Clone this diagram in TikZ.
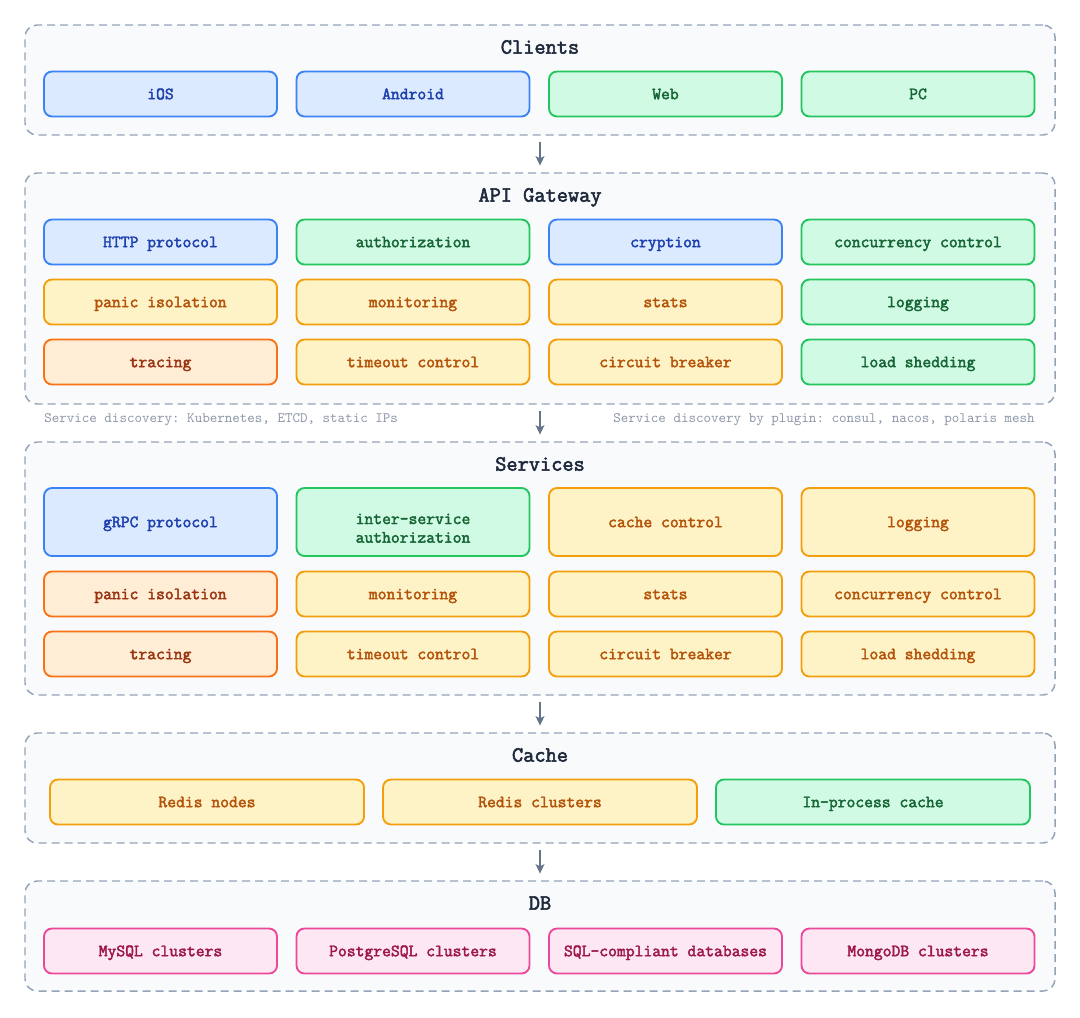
\documentclass[tikz,border=0pt]{standalone}
\usepackage{fontspec}
\setmonofont{Latin Modern Mono}[AutoFakeBold=2.5]
\usepackage{tikz}
\usetikzlibrary{positioning,arrows.meta}

\definecolor{groupfill}{HTML}{F8FAFC}
\definecolor{groupline}{HTML}{94A3B8}
\definecolor{titletext}{HTML}{1E293B}
\definecolor{flowline}{HTML}{64748B}
\definecolor{notetext}{HTML}{8C96A8}
\definecolor{bluefill}{HTML}{DBEAFE}
\definecolor{blueline}{HTML}{3B82F6}
\definecolor{bluetext}{HTML}{1E40AF}
\definecolor{greenfill}{HTML}{D1FAE5}
\definecolor{greenline}{HTML}{22C55E}
\definecolor{greentext}{HTML}{166534}
\definecolor{yellowfill}{HTML}{FEF3C7}
\definecolor{yellowline}{HTML}{F59E0B}
\definecolor{yellowtext}{HTML}{B45309}
\definecolor{orangefill}{HTML}{FFEDD5}
\definecolor{orangeline}{HTML}{F97316}
\definecolor{orangetext}{HTML}{9A3412}
\definecolor{pinkfill}{HTML}{FCE7F3}
\definecolor{pinkline}{HTML}{EC4899}
\definecolor{pinktext}{HTML}{9D174D}

\begin{document}
\begin{tikzpicture}[x=0.75pt, y=-0.75pt,
    group/.style={draw=groupline, fill=groupfill, line width=1.1pt, dash pattern=on 6pt off 3.75pt,
        rounded corners=9pt, minimum width=772.5pt, inner sep=0pt},
    title/.style={text=titletext, text height=10pt, text depth=0pt,
        font=\ttfamily\bfseries\fontsize{16.3}{19}\selectfont},
    box/.style={draw, rounded corners=6pt, line width=1.4pt, minimum width=174.75pt, minimum height=33.75pt,
        align=center, text height=7.8pt, text depth=0pt, font=\ttfamily\bfseries\fontsize{12.85}{14}\selectfont},
    twoline/.style={text height=31pt, text depth=0pt},
    oneline/.style={},
    widebox/.style={box, minimum width=235.5pt},
    bluebox/.style={draw=blueline, fill=bluefill, text=bluetext},
    greenbox/.style={draw=greenline, fill=greenfill, text=greentext},
    yellowbox/.style={draw=yellowline, fill=yellowfill, text=yellowtext},
    orangebox/.style={draw=orangeline, fill=orangefill, text=orangetext},
    pinkbox/.style={draw=pinkline, fill=pinkfill, text=pinktext},
    note/.style={text=notetext, inner sep=0pt, text height=6.6pt, text depth=0pt,
        font=\ttfamily\fontsize{10.75}{12}\selectfont},
    flow/.style={draw=flowline, line width=1.6pt, -{Stealth[length=7pt, width=6.5pt, inset=1.5pt]},
        shorten <=5pt, shorten >=5pt}]
    \useasboundingbox (0,0) rectangle (1080,1017);

    % layers
    \node[group, minimum height=82.5pt] (clients) at (540,80) {};
    \node[group, minimum height=173.25pt] (gateway) at (540,288.5) {};
    \node[group, minimum height=189.75pt] (services) at (540,568.5) {};
    \node[group, minimum height=82.5pt] (cache) at (540,788) {};
    \node[group, minimum height=82.5pt] (db) at (540,936) {};

    \node[title] (clients-title) at (540,47) {Clients};
    \node[title] (gateway-title) at (540,195) {API Gateway};
    \node[title] (services-title) at (540,464) {Services};
    \node[title] (cache-title) at (540,755) {Cache};
    \node[title] (db-title) at (540,903) {DB};

    % clients
    \foreach \name/\txt/\kind [count=\i from 0] in {ios/iOS/bluebox, android/Android/bluebox,
            web/Web/greenbox, pc/PC/greenbox}
        \node[box, \kind] (\name) at (160.5+\i*252.5, 94) {\txt};

    % api gateway
    \foreach \name/\txt/\kind [count=\i from 0] in {gw-http/HTTP protocol/bluebox,
            gw-auth/authorization/greenbox, gw-crypt/cryption/bluebox,
            gw-conc/concurrency control/greenbox}
        \node[box, \kind] (\name) at (160.5+\i*252.5, 242) {\txt};
    \foreach \name/\txt/\kind [count=\i from 0] in {gw-panic/panic isolation/yellowbox,
            gw-mon/monitoring/yellowbox, gw-stats/stats/yellowbox, gw-log/logging/greenbox}
        \node[box, \kind] (\name) at (160.5+\i*252.5, 302) {\txt};
    \foreach \name/\txt/\kind [count=\i from 0] in {gw-trace/tracing/orangebox,
            gw-timeout/timeout control/yellowbox, gw-breaker/circuit breaker/yellowbox,
            gw-shed/load shedding/greenbox}
        \node[box, \kind] (\name) at (160.5+\i*252.5, 362) {\txt};

    % service discovery notes
    \node[note, anchor=west] (sd-left) at (44,418) {Service discovery: Kubernetes, ETCD, static IPs};
    \node[note, anchor=east] (sd-right) at (1035,418) {Service discovery by plugin: consul, nacos, polaris mesh};

    % services
    \foreach \name/\txt/\kind/\lines [count=\i from 0] in {sv-grpc/gRPC protocol/bluebox/oneline,
            sv-auth/{inter-service\\authorization}/greenbox/twoline,
            sv-cache/cache control/yellowbox/oneline, sv-log/logging/yellowbox/oneline}
        \node[box, \kind, \lines, minimum height=51pt] (\name) at (160.5+\i*252.5, 522) {\txt};
    \foreach \name/\txt/\kind [count=\i from 0] in {sv-panic/panic isolation/orangebox,
            sv-mon/monitoring/yellowbox, sv-stats/stats/yellowbox,
            sv-conc/concurrency control/yellowbox}
        \node[box, \kind] (\name) at (160.5+\i*252.5, 594) {\txt};
    \foreach \name/\txt/\kind [count=\i from 0] in {sv-trace/tracing/orangebox,
            sv-timeout/timeout control/yellowbox, sv-breaker/circuit breaker/yellowbox,
            sv-shed/load shedding/yellowbox}
        \node[box, \kind] (\name) at (160.5+\i*252.5, 654) {\txt};

    % cache
    \foreach \name/\txt/\kind [count=\i from 0] in {redis-nodes/Redis nodes/yellowbox,
            redis-clusters/Redis clusters/yellowbox, inproc/In-process cache/greenbox}
        \node[widebox, \kind] (\name) at (207+\i*333, 802) {\txt};

    % db
    \foreach \name/\txt [count=\i from 0] in {mysql/MySQL clusters, pgsql/PostgreSQL clusters,
            sqldb/SQL-compliant databases, mongo/MongoDB clusters}
        \node[box, pinkbox] (\name) at (160.5+\i*252.5, 951) {\txt};

    % flow between layers
    \draw[flow] (clients) -- (gateway);
    \draw[flow] (gateway) -- (services);
    \draw[flow] (services) -- (cache);
    \draw[flow] (cache) -- (db);
\end{tikzpicture}
\end{document}
